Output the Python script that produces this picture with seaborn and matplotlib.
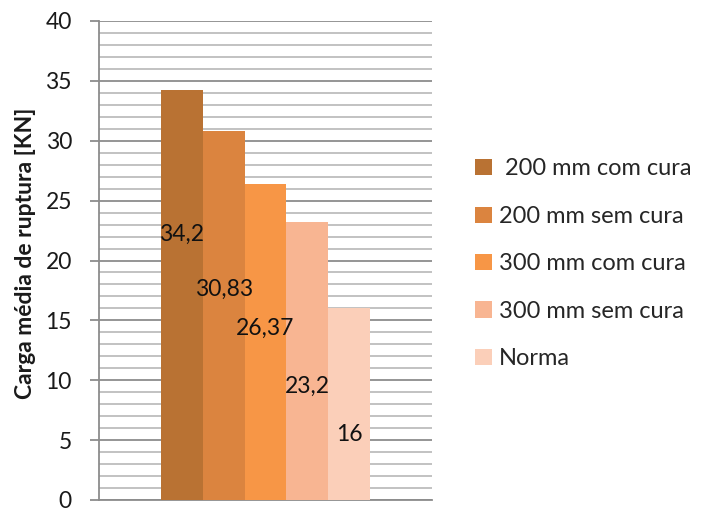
import matplotlib
matplotlib.use("Agg")
import matplotlib.pyplot as plt
import seaborn as sns
import pandas as pd
from matplotlib.ticker import MultipleLocator
from matplotlib.patches import Patch

# Breaking load per specimen type
series = ["200 mm com cura", "200 mm sem cura", "300 mm com cura", "300 mm sem cura", "Norma"]
values = [34.2, 30.83, 26.37, 23.2, 16]
value_labels = ["34,2", "30,83", "26,37", "23,2", "16"]
colors = ["#B97233", "#DB843F", "#F79646", "#F8B592", "#FBCFB9"]
legend_labels = [" 200 mm com cura", "200 mm sem cura", "300 mm com cura", "300 mm sem cura", "Norma"]
y_label = "Carga média de ruptura [KN]"

# vertical placement of each data label inside its bar
label_heights = [22.2, 17.6, 14.3, 9.45, 5.5]

sns.set_theme(style="white")
plt.rcParams["font.family"] = ["Lato", "DejaVu Sans"]

df = pd.DataFrame({"grupo": [""] * len(series), "serie": series, "valor": values})

fig = plt.figure(figsize=(7.01, 5.09), dpi=100)
ax = fig.add_axes([99 / 701, 9 / 509, 333 / 701, 479 / 509])

sns.barplot(data=df, x="grupo", y="valor", hue="serie", hue_order=series,
            palette=colors, width=0.628, saturation=1, legend=False, ax=ax,
            linewidth=0, zorder=3)

ax.set_xlim(-0.5, 0.5)
ax.set_ylim(0, 40)
ax.yaxis.set_major_locator(MultipleLocator(5))
ax.yaxis.set_minor_locator(MultipleLocator(1))
ax.grid(which="major", axis="y", color="#8C8C8C", linewidth=1.3, zorder=0)
ax.grid(which="minor", axis="y", color="#BDBDBD", linewidth=1.3, zorder=0)
ax.set_axisbelow(True)

for side in ("top", "right"):
    ax.spines[side].set_visible(False)
for side in ("left", "bottom"):
    ax.spines[side].set_color("#8C8C8C")
    ax.spines[side].set_linewidth(1.3)

ax.tick_params(axis="y", which="major", direction="out", length=6.5, width=1.3,
               color="#8C8C8C", pad=13, labelsize=16.5, labelcolor="#1a1a1a", left=True)
ax.tick_params(axis="y", which="minor", left=False)
ax.set_xticks([])
ax.set_xlabel("")
ax.set_ylabel(y_label, fontsize=16.5, fontweight="bold", color="#1a1a1a")
ax.yaxis.set_label_coords(-0.222 + 11 / 333, 0.515)

# data labels centred on each bar
for patch, text, h in zip(ax.patches, value_labels, label_heights):
    cx = patch.get_x() + patch.get_width() / 2
    ax.text(cx, h, text, ha="center", va="center", fontsize=16.5, color="#111111", zorder=5)

handles = [Patch(facecolor=c, edgecolor="none") for c in colors]
fig.legend(handles, legend_labels, loc="upper left", bbox_to_anchor=(466 / 701, 1 - 149 / 509),
           frameon=False, fontsize=17, handlelength=0.68, handleheight=0.68,
           handletextpad=0.3, labelspacing=1.12, borderaxespad=0)

fig.savefig("out.png", dpi=100)
